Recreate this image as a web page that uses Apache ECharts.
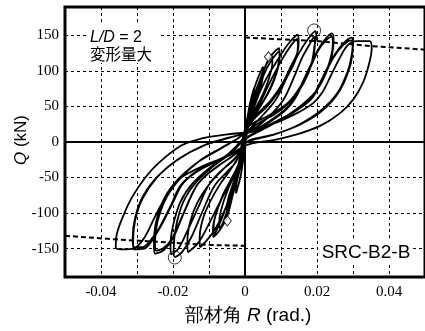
<!DOCTYPE html>
<html><head><meta charset="utf-8">
<script src="https://cdn.jsdelivr.net/npm/echarts@6/dist/echarts.min.js"></script>
<style>html,body{margin:0;padding:0;background:#fff}#c{width:425px;height:331px}</style>
</head><body><div id="c"></div>
<script>
const xTickLabels = [-0.04, -0.02, 0, 0.02, 0.04];
const yTickLabels = [-150, -100, -50, 0, 50, 100, 150];

const cycle01 = [[0,0],[0.0005,25],[0.0012,50],[0.0025,76],[0.0024,65],[0.0015,45],[0.0005,20],[0,-5],[-0.0005,-25],[-0.0013,-50],[-0.0025,-72],[-0.0024,-60],[-0.0014,-38],[-0.0004,-12],[0,10]];
const cycle02 = [[0.0005,30],[0.0015,55],[0.003,82],[0.005,106],[0.0049,94],[0.0041,75],[0.0027,54],[0.0011,32],[0,12],[-0.0005,-8],[-0.0012,-30],[-0.0025,-58],[-0.0038,-82],[-0.005,-104],[-0.0049,-92],[-0.0039,-72],[-0.0024,-48],[-0.001,-24],[0,-2],[0.0004,12]];
const cycle03 = [[0.001,28],[0.0022,52],[0.0036,78],[0.005,100],[0.0049,90],[0.004,70],[0.0026,50],[0.001,28],[0,8],[-0.0006,-12],[-0.0015,-35],[-0.0028,-60],[-0.0039,-80],[-0.005,-98],[-0.0049,-86],[-0.0038,-66],[-0.0022,-42],[-0.0008,-20],[0,0],[0.0004,12]];
const cycle04 = [[0.0006,28],[0.002,55],[0.004,85],[0.0058,108],[0.0075,122],[0.0076,112],[0.0068,92],[0.0052,70],[0.003,48],[0.001,28],[0,10],[-0.0006,-10],[-0.0016,-38],[-0.003,-65],[-0.005,-98],[-0.007,-122],[-0.0071,-110],[-0.0062,-88],[-0.0045,-64],[-0.0025,-42],[-0.0008,-20],[0,0],[0.0005,12]];
const cycle05 = [[0.0006,30],[0.002,58],[0.0045,92],[0.0065,116],[0.008,126],[0.0095,132],[0.0096,122],[0.0088,100],[0.0072,78],[0.0048,55],[0.002,33],[0.0002,14],[-0.0006,-6],[-0.0015,-35],[-0.003,-65],[-0.0049,-104],[-0.007,-124],[-0.0088,-134],[-0.0089,-122],[-0.008,-100],[-0.0062,-75],[-0.0036,-50],[-0.0012,-25],[0,-2],[0.0005,12]];
const cycle06 = [[0.001,30],[0.0028,60],[0.005,92],[0.0072,114],[0.0095,128],[0.0096,118],[0.0087,96],[0.007,74],[0.0045,52],[0.0018,30],[0,10],[-0.0008,-10],[-0.002,-38],[-0.0038,-68],[-0.006,-102],[-0.0086,-130],[-0.0087,-118],[-0.0077,-96],[-0.0058,-72],[-0.0033,-47],[-0.001,-22],[0,0],[0.0005,12]];
const cycle07 = [[0.0005,25],[0.0015,40],[0.0032,60],[0.006,90],[0.009,115],[0.012,138],[0.0147,151],[0.0149,140],[0.0145,125],[0.0128,107],[0.0106,84],[0.0074,60],[0.0037,41],[0.0006,25],[-0.0005,8],[-0.001,-8],[-0.0018,-35],[-0.0035,-68],[-0.006,-100],[-0.009,-128],[-0.0125,-148],[-0.0126,-135],[-0.0118,-110],[-0.0098,-85],[-0.007,-60],[-0.0035,-35],[-0.001,-12],[0,5],[0.0004,12]];
const cycle08 = [[0.001,22],[0.0025,38],[0.0045,58],[0.0075,90],[0.0105,118],[0.0128,136],[0.0145,145],[0.0147,135],[0.0142,118],[0.0124,98],[0.0098,75],[0.0065,52],[0.003,35],[0.0003,18],[-0.0008,0],[-0.0012,-12],[-0.002,-35],[-0.004,-55],[-0.007,-85],[-0.01,-115],[-0.013,-142],[-0.0159,-155],[-0.016,-140],[-0.0152,-112],[-0.0132,-85],[-0.01,-60],[-0.006,-38],[-0.002,-18],[0,4],[0.0005,12]];
const cycle09 = [[0.002,22],[0.005,38],[0.0086,60],[0.012,95],[0.015,125],[0.0175,145],[0.0196,156],[0.0198,148],[0.0194,138],[0.0183,107],[0.0155,79],[0.0119,55],[0.0065,37],[0.001,22],[-0.0005,5],[-0.0012,-10],[-0.0025,-28],[-0.005,-42],[-0.0085,-62],[-0.012,-100],[-0.015,-135],[-0.0175,-155],[-0.0195,-162],[-0.0198,-150],[-0.0192,-120],[-0.0172,-85],[-0.0138,-58],[-0.009,-35],[-0.004,-16],[-0.001,0],[0.0003,12]];
const cycle10 = [[0.003,20],[0.0065,35],[0.0105,58],[0.0135,90],[0.016,120],[0.018,138],[0.0192,148],[0.0194,138],[0.0186,112],[0.0165,85],[0.0132,60],[0.0085,40],[0.003,24],[0,8],[-0.0012,-10],[-0.003,-25],[-0.0065,-40],[-0.01,-60],[-0.013,-92],[-0.016,-125],[-0.0185,-150],[-0.0205,-158],[-0.0207,-145],[-0.02,-118],[-0.018,-85],[-0.0145,-58],[-0.0095,-35],[-0.0045,-16],[-0.001,2],[0.0003,12]];
const cycle11 = [[0.003,18],[0.007,30],[0.011,45],[0.0136,60],[0.017,95],[0.02,127],[0.022,143],[0.0241,153],[0.0246,145],[0.0245,132],[0.0233,107],[0.0201,74],[0.0155,51],[0.0101,32],[0.0037,15],[0,4],[-0.0012,-10],[-0.003,-18],[-0.007,-32],[-0.011,-48],[-0.0135,-62],[-0.017,-100],[-0.02,-135],[-0.0225,-152],[-0.025,-157],[-0.0253,-145],[-0.0248,-115],[-0.0225,-80],[-0.0185,-52],[-0.013,-28],[-0.007,-10],[-0.002,5],[0,12]];
const cycle12 = [[0.0035,18],[0.008,32],[0.0115,46],[0.014,62],[0.0175,98],[0.0205,130],[0.0225,143],[0.024,148],[0.0244,140],[0.0241,125],[0.0226,100],[0.0195,70],[0.015,48],[0.0095,30],[0.0035,14],[0,3],[-0.0012,-10],[-0.0035,-20],[-0.0075,-34],[-0.0115,-50],[-0.014,-66],[-0.0175,-105],[-0.0205,-138],[-0.0228,-150],[-0.0248,-153],[-0.025,-140],[-0.0243,-112],[-0.0218,-78],[-0.0178,-50],[-0.0125,-26],[-0.0065,-8],[-0.002,5],[0,12]];
const cycle13 = [[0.004,18],[0.009,30],[0.014,44],[0.0182,60],[0.021,85],[0.024,115],[0.027,137],[0.0296,147],[0.03,140],[0.0299,128],[0.0292,107],[0.0265,74],[0.0219,46],[0.0155,25],[0.0083,11],[0.001,2],[-0.001,-8],[-0.004,-18],[-0.009,-30],[-0.014,-44],[-0.0175,-60],[-0.02,-85],[-0.023,-115],[-0.026,-140],[-0.028,-150],[-0.0309,-151],[-0.0311,-140],[-0.0305,-110],[-0.0285,-80],[-0.0245,-50],[-0.019,-26],[-0.012,-6],[-0.005,5],[0,12]];
const cycle14 = [[0.0045,18],[0.0095,30],[0.0145,45],[0.0187,62],[0.0215,88],[0.0245,118],[0.0272,136],[0.0295,143],[0.0299,135],[0.0296,122],[0.0287,102],[0.0258,70],[0.021,44],[0.0148,24],[0.0078,10],[0.001,1],[-0.001,-8],[-0.0045,-18],[-0.0095,-30],[-0.0145,-45],[-0.018,-62],[-0.0205,-88],[-0.0235,-118],[-0.0265,-140],[-0.0285,-148],[-0.031,-148],[-0.0312,-136],[-0.0305,-106],[-0.0283,-76],[-0.0242,-48],[-0.0185,-24],[-0.0115,-5],[-0.0045,6],[0,12]];
const cycle15 = [[0.005,20],[0.01,30],[0.015,42],[0.019,55],[0.0215,70],[0.024,95],[0.0265,120],[0.0285,136],[0.031,142],[0.0346,142],[0.0352,132],[0.0343,107],[0.0328,84],[0.0301,60],[0.0265,41],[0.021,23],[0.0146,11],[0.0083,3],[0.002,-2],[-0.001,-8],[-0.005,-20],[-0.01,-30],[-0.015,-42],[-0.019,-55],[-0.0215,-72],[-0.025,-105],[-0.028,-135],[-0.031,-150],[-0.034,-151],[-0.0359,-148.5],[-0.0358,-135],[-0.034,-106],[-0.0314,-78],[-0.0277,-50],[-0.0241,-30],[-0.0177,-5],[-0.012,5],[-0.006,10],[0,13]];

const posEnvelope = [[0,147],[0.02,142],[0.035,135],[0.05,130]];
const negEnvelope = [[-0.05,-132],[-0.036,-137],[-0.026,-140],[-0.01,-145],[0,-146]];
const maxPoints = [[0.0192,157],[-0.0195,-162.6]];
const yieldPoints = [[0.0065,120],[-0.0049,-111]];

const hysteresis = [].concat(cycle01,cycle02,cycle03,cycle04,cycle05,cycle06,cycle07,cycle08,cycle09,cycle10,cycle11,cycle12,cycle13,cycle14,cycle15);

const serif = 'Liberation Serif';
const sans = 'Liberation Sans';
const gridDash = {color:'#000', width:1, type:[3,3]};

const chart = echarts.init(document.getElementById('c'), null, {renderer:'canvas'});
chart.setOption({
  animation:false,
  grid:{left:65, right:-6, top:7, bottom:54, show:true, borderColor:'#000', borderWidth:3, backgroundColor:'rgba(0,0,0,0)'},
  xAxis:{type:'value', min:-0.05, max:0.05, interval:0.01,
    axisLine:{show:false}, axisTick:{show:false},
    axisLabel:{customValues:xTickLabels, formatter:function(v){return v===0?'0':v.toFixed(2);}, fontFamily:serif, fontSize:15, color:'#000', margin:8},
    splitLine:{show:true, lineStyle:gridDash}},
  yAxis:{type:'value', min:-190, max:190,
    axisLine:{show:false}, axisTick:{show:false, customValues:yTickLabels},
    axisLabel:{customValues:yTickLabels, fontFamily:serif, fontSize:15, color:'#000', margin:6},
    splitLine:{show:true, lineStyle:gridDash}},
  series:[
    {type:'line', data:hysteresis, showSymbol:false, smooth:0.35, lineStyle:{color:'#000', width:1.8}, z:3,
     markLine:{silent:true, symbol:['none','none'], label:{show:false}, lineStyle:{color:'#000', width:2, type:'solid'}, data:[{xAxis:0},{yAxis:0}]}},
    {type:'line', data:posEnvelope, showSymbol:false, lineStyle:{color:'#000', width:2, type:[5,3]}, z:4},
    {type:'line', data:negEnvelope, showSymbol:false, lineStyle:{color:'#000', width:2, type:[5,3]}, z:4},
    {type:'scatter', data:maxPoints, symbol:'circle', symbolSize:13, itemStyle:{color:'rgba(0,0,0,0)', borderColor:'#000', borderWidth:1}, z:5},
    {type:'scatter', data:yieldPoints, symbol:'diamond', symbolSize:[8,10], itemStyle:{color:'#fff', borderColor:'#000', borderWidth:1}, z:5}
  ],
  graphic:[
    {type:'rect', z:50, shape:{x:87, y:25, width:71, height:38}, style:{fill:'#fff'}},
    {type:'text', z:51, x:116, y:38, style:{text:'{i|L/D} = 2', rich:{i:{fontStyle:'italic', fontSize:16, fontFamily:sans, fill:'#000'}}, fontSize:16, fontFamily:sans, fill:'#000', align:'center', verticalAlign:'middle'}},
    {type:'text', z:51, x:121, y:54, style:{text:'変形量大', fontSize:15.5, fontFamily:'Noto Sans CJK JP', fill:'#000', align:'center', verticalAlign:'middle'}},
    {type:'rect', z:50, shape:{x:318, y:239, width:94, height:24}, style:{fill:'#fff'}},
    {type:'text', z:51, x:366, y:253, style:{text:'SRC-B2-B', fontSize:19, fontFamily:sans, fill:'#000', align:'center', verticalAlign:'middle'}},
    {type:'text', z:51, x:248, y:316, style:{text:'部材角 {i|R} (rad.)', rich:{i:{fontStyle:'italic', fontSize:19, fontFamily:sans, fill:'#000'}}, fontSize:19, fontFamily:sans, fill:'#000', align:'center', verticalAlign:'middle'}},
    {type:'text', z:51, x:21, y:140, rotation:Math.PI/2, style:{text:'{i|Q} (kN)', rich:{i:{fontStyle:'italic', fontSize:17, fontFamily:sans, fill:'#000'}}, fontSize:17, fontFamily:sans, fill:'#000', align:'center', verticalAlign:'middle'}}
  ]
});
</script>
</body></html>
